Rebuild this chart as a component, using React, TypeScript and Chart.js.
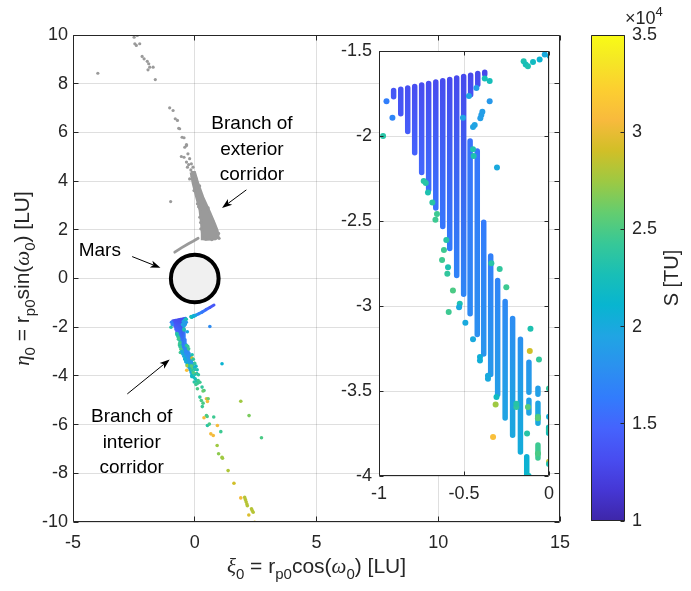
import React, { useEffect, useRef } from "react";
import { Chart, registerables } from "chart.js";

Chart.register(...registerables);

const W = 691;
const H = 591;

const FONT = '"Liberation Sans", Arial, Helvetica, sans-serif';
const GREEK = '"Liberation Serif", "DejaVu Serif", serif';
const AXIS_COLOR = "#262626";
const GRID_COLOR = "rgba(38,38,38,0.15)";
const GREY = "#9a9a9a";

// ---- axes ----
const mainXTicks = [-5, 0, 5, 10, 15];
const mainYTicks = [-10, -8, -6, -4, -2, 0, 2, 4, 6, 8, 10];
const insetXTicks = [-1, -0.5, 0];
const insetYTicks = [-4, -3.5, -3, -2.5, -2, -1.5];
const colorTicks = [10000, 15000, 20000, 25000, 30000, 35000];
const S_MIN = 10000;
const S_MAX = 35000;

// Parula colour map: [row of 64, r, g, b]
const parulaRows: [number, number, number, number][] = [
  [1, 0.2422, 0.1504, 0.6603],
  [5, 0.2706, 0.2147, 0.8364],
  [9, 0.2813, 0.3006, 0.9414],
  [13, 0.2699, 0.3892, 0.9906],
  [17, 0.1963, 0.4847, 0.9892],
  [21, 0.1687, 0.5703, 0.9359],
  [25, 0.1248, 0.6459, 0.8883],
  [29, 0.0297, 0.7082, 0.8163],
  [33, 0.0964, 0.75, 0.712],
  [37, 0.2161, 0.7843, 0.5923],
  [41, 0.3909, 0.8029, 0.4354],
  [45, 0.6174, 0.7876, 0.2612],
  [49, 0.8203, 0.7498, 0.1535],
  [53, 0.9728, 0.7298, 0.2394],
  [57, 0.9892, 0.8136, 0.1885],
  [61, 0.9597, 0.9135, 0.1423],
  [64, 0.9769, 0.9839, 0.0805],
];

// ---- Mars ----
const MARS_CENTER: [number, number] = [0, 0];
const MARS_RADIUS = 0.98;

// ---- exterior corridor branch (grey) ----
const exteriorPoints: [number, number][] = [
  [-3.98, 8.43], [-2.49, 9.91], [-2.36, 9.98], [-2.46, 9.64], [-2.4, 9.57], [-2.26, 9.64],
  [-2.16, 9.12], [-2.08, 9.02], [-1.95, 8.92], [-1.89, 8.82], [-1.85, 8.68], [-1.92, 8.57],
  [-1.71, 8.68], [-1.62, 8.17], [-1.03, 7.01], [-0.89, 6.9], [-0.8, 6.56], [-0.71, 6.49],
  [-0.66, 6.17], [-0.62, 6.15], [-0.52, 5.8], [-0.44, 5.78], [-0.34, 5.46], [-0.41, 5.39],
  [-0.34, 5.5], [-0.55, 5.01], [-0.44, 4.98], [-0.28, 5.12], [-0.21, 4.92], [-0.34, 4.78],
  [-0.25, 4.68], [-0.14, 4.71], [-0.16, 4.46], [-0.07, 4.57], [-0.3, 4.57], [-0.99, 3.16],
  [-0.21, 4.09], [-0.03, 3.61], [0.11, 3.07], [0.21, 2.52], [0.25, 2.04], [-0.1, 4.2],
  [0.05, 4.1], [0.2, 3.8], [0.4, 3.1], [0.55, 2.9], [0.75, 2.35], [0.98, 1.85], [1.0, 1.65],
  [0.7, 1.6], [0.45, 1.62], [0.24, 2.3], [0.16, 2.95],
];
const exteriorCore: [number, number][] = [
  [-0.16, 4.36], [0.0, 4.36], [0.14, 3.89], [0.34, 3.34], [0.62, 2.72], [0.82, 2.25],
  [0.93, 1.97], [0.97, 1.7], [0.85, 1.62], [0.5, 1.6], [0.32, 1.62], [0.3, 1.84],
  [0.27, 2.25], [0.21, 2.79], [0.07, 3.34], [-0.07, 3.89],
];
const exteriorArc: [number, number][] = [
  [-0.82, 1.08], [-0.55, 1.26], [-0.28, 1.42], [-0.07, 1.53], [0.14, 1.65],
];

// ---- interior corridor branch (coloured by S) ----
// stripes: xi, eta at top, eta at bottom, S at top, S at bottom
const stripeXi = [
  -0.914, -0.872, -0.831, -0.79, -0.749, -0.708, -0.666, -0.625, -0.584, -0.543, -0.502,
  -0.461, -0.419, -0.378, -0.464, -0.422, -0.384, -0.343, -0.302, -0.258, -0.214, -0.168,
  -0.118, -0.118, -0.131, -0.065, -0.065, -0.065, -0.002,
];
const stripeTop = [
  -1.733, -1.725, -1.717, -1.709, -1.7, -1.691, -1.683, -1.675, -1.667, -1.659, -1.65,
  -1.642, -1.633, -1.625, -2.029, -2.088, -2.508, -2.706, -2.85, -2.974, -3.073, -3.196,
  -3.331, -3.554, -3.887, -3.484, -3.572, -3.818, -3.713,
];
const stripeBottom = [
  -1.769, -1.869, -1.974, -2.098, -2.215, -2.318, -2.423, -2.533, -2.662, -2.821, -2.931,
  -1.758, -1.697, -1.637, -3.046, -3.168, -3.283, -3.403, -3.52, -3.659, -3.761, -3.859,
  -3.507, -3.63, -4.05, -3.519, -3.689, -3.894, -3.748,
];
const stripeSTop = [
  13800, 13600, 13400, 13300, 13200, 13200, 13100, 13100, 13000, 13000, 13000,
  12900, 12900, 12800, 15800, 16000, 16300, 16700, 17000, 17300, 17600, 17900,
  18300, 19200, 20700, 19000, 19500, 24500, 22500,
];
const stripeSBottom = [
  14000, 13900, 14300, 14700, 15000, 15400, 15700, 16000, 16300, 16800, 17100,
  13500, 13200, 12900, 17400, 17800, 18200, 18500, 19000, 19500, 19900, 20300,
  18900, 19500, 21500, 19100, 20000, 24500, 22500,
];

// scattered solutions near the dense part: xi, eta, S
const interiorCore: [number, number, number][] = [
  [-0.956, -1.795, 16500], [-0.921, -1.893, 17000], [-0.976, -2.0, 23500],
  [-0.471, -1.765, 19500], [-0.506, -1.893, 19500], [-0.447, -1.947, 19500],
  [-0.437, -1.935, 19500], [-0.392, -1.857, 19000], [-0.398, -1.876, 19000],
  [-0.404, -1.896, 19000], [-0.427, -1.717, 19000], [-0.378, -1.662, 22500],
  [-0.349, -1.677, 22500], [-0.349, -1.795, 18500], [-0.306, -2.186, 20000],
  [-0.447, -2.078, 23000], [-0.443, -2.117, 23000], [-0.737, -2.264, 23500],
  [-0.725, -2.277, 23500], [-0.712, -2.332, 23000], [-0.686, -2.391, 23500],
  [-0.659, -2.459, 24500], [-0.668, -2.493, 24500], [-0.604, -2.612, 23500],
  [-0.618, -2.67, 24500], [-0.629, -2.729, 24500], [-0.594, -2.772, 23000],
  [-0.339, -2.749, 23500], [-0.29, -2.782, 24000], [-0.598, -2.811, 24000],
  [-0.565, -2.909, 25000], [-0.525, -2.987, 23000], [-0.59, -3.036, 24500],
  [-0.529, -3.007, 20000], [-0.492, -3.099, 20000], [-0.447, -3.195, 20000],
  [-0.406, -3.3, 20500], [-0.406, -3.32, 20500], [-0.359, -3.41, 20000],
  [-0.359, -3.428, 20000], [-0.251, -2.89, 24500], [-0.309, -3.535, 22000],
  [-0.314, -3.58, 27500], [-0.329, -3.77, 31000], [-0.192, -3.594, 24000],
  [-0.192, -3.575, 23500], [-0.109, -3.134, 23000], [-0.113, -3.265, 29000],
  [-0.059, -3.314, 24000], [-0.124, -3.594, 25500], [-0.129, -3.75, 23500],
  [-0.065, -3.652, 25000], [-0.065, -3.66, 25500], [0.0, -3.486, 24000],
  [0.0, -3.652, 20500], [0.0, -3.73, 23500], [0.0, -3.916, 28500], [0.0, -3.93, 23000],
  [-0.065, -3.867, 25000], [-0.149, -1.56, 23000], [-0.137, -1.58, 22500],
  [-0.124, -1.589, 23000], [-0.094, -1.564, 22000], [-0.055, -1.55, 21000],
  [-0.025, -1.521, 20000], [0.004, -1.531, 20500],
];

// sparse solutions further down the branch: xi, eta, S
const interiorTrail: [number, number, number][] = [
  [0.62, -1.97, 17500], [1.12, -3.5, 21000], [0.05, -3.6, 22000], [0.1, -3.75, 23000],
  [0.08, -3.9, 22500], [0.15, -3.95, 24000], [-0.05, -4.05, 22000], [0.02, -4.12, 22500],
  [-0.12, -4.0, 22000], [0.08, -4.2, 23000], [0.12, -4.3, 24000], [-0.02, -4.25, 23500],
  [0.05, -4.35, 24500], [0.14, -4.19, 24500], [0.21, -4.26, 24500], [0.3, -4.46, 24000],
  [0.11, -4.53, 25000], [0.38, -4.6, 25000], [0.34, -4.62, 26000], [0.21, -4.87, 24000],
  [0.48, -4.94, 30000], [0.55, -4.94, 26000], [0.27, -5.01, 25000], [0.52, -5.05, 30500],
  [0.34, -5.12, 25000], [0.31, -5.26, 24500], [0.48, -5.63, 25000], [0.51, -5.67, 25000],
  [0.38, -5.72, 30500], [0.78, -5.69, 24500], [0.52, -6.04, 23500], [0.6, -5.98, 25000],
  [0.93, -6.04, 30500], [1.07, -6.29, 24500], [0.66, -6.38, 30500], [0.76, -6.45, 30500],
  [0.92, -6.86, 27500], [0.98, -7.2, 27000], [1.12, -7.34, 27500], [1.14, -7.38, 27500],
  [1.37, -7.89, 28000], [1.61, -8.41, 29000], [1.89, -9.01, 30500], [2.05, -8.99, 28200],
  [2.08, -9.08, 28200], [2.11, -9.17, 28200], [2.14, -9.26, 28200], [2.16, -9.33, 28200],
  [2.33, -9.46, 28200], [2.36, -9.53, 28200], [2.4, -9.6, 28200], [2.22, -9.71, 29500],
  [2.46, -10.01, 29500], [1.89, -5.04, 27500], [2.23, -5.63, 26500], [2.74, -6.54, 25000],
];

// thin arc of solutions next to Mars: xi, eta, S
const interiorArc: [number, number, number][] = [
  [-0.15, -1.57, 20500], [-0.05, -1.54, 19500], [0.05, -1.5, 18500], [0.16, -1.45, 17500],
  [0.3, -1.38, 16500], [0.46, -1.28, 15500], [0.62, -1.19, 14500], [0.79, -1.09, 13500],
];

// ---- annotations (anchors in data units) ----
const labelLines = [["Mars"], ["Branch of", "exterior", "corridor"], ["Branch of", "interior", "corridor"]];
const labelAnchors: [number, number][] = [[-3.9, 1.12], [2.35, 6.34], [-2.59, -5.68]];
const arrowTails: [number, number][] = [[-2.57, 0.9], [2.12, 3.64], [-2.77, -4.74]];
const arrowHeads: [number, number][] = [[-1.41, 0.44], [1.12, 2.9], [-1.03, -3.33]];

type Run = { t: string; greek?: boolean; sub?: boolean; sup?: boolean };
const xTitle: Run[] = [
  { t: "ξ", greek: true }, { t: "0", sub: true }, { t: " = r" }, { t: "p0", sub: true },
  { t: "cos(" }, { t: "ω", greek: true }, { t: "0", sub: true }, { t: ") [LU]" },
];
const yTitle: Run[] = [
  { t: "η", greek: true }, { t: "0", sub: true }, { t: " = r" }, { t: "p0", sub: true },
  { t: "sin(" }, { t: "ω", greek: true }, { t: "0", sub: true }, { t: ") [LU]" },
];
const scaleFactorLabel: Run[] = [{ t: "×10" }, { t: "4", sup: true }];

function parula(s: number): string {
  const t = Math.min(1, Math.max(0, (s - S_MIN) / (S_MAX - S_MIN)));
  const f = t * 63 + 1;
  let i = 0;
  while (i < parulaRows.length - 2 && parulaRows[i + 1][0] < f) i++;
  const a = parulaRows[i];
  const b = parulaRows[i + 1];
  const u = Math.min(1, Math.max(0, (f - a[0]) / (b[0] - a[0])));
  const c = (k: number) => Math.round(255 * (a[k] + (b[k] - a[k]) * u));
  return `rgb(${c(1)},${c(2)},${c(3)})`;
}

const fmt = (v: number) => String(Math.round(v * 100) / 100);
const tickFont = { family: FONT, size: 18 };

function runFont(r: Run, size: number) {
  const s = r.sub || r.sup ? Math.round(size * 0.7) : size;
  return r.greek ? `italic ${s}px ${GREEK}` : `${s}px ${FONT}`;
}

function drawRich(ctx: CanvasRenderingContext2D, runs: Run[], x: number, y: number, size: number, align: "center" | "left") {
  ctx.textAlign = "left";
  ctx.textBaseline = "alphabetic";
  const widths = runs.map((r) => {
    ctx.font = runFont(r, size);
    return ctx.measureText(r.t).width;
  });
  const total = widths.reduce((a, b) => a + b, 0);
  let cx = align === "center" ? x - total / 2 : x;
  runs.forEach((r, i) => {
    ctx.font = runFont(r, size);
    const dy = r.sub ? size * 0.3 : r.sup ? -size * 0.45 : 0;
    ctx.fillText(r.t, cx, y + dy);
    cx += widths[i];
  });
}

const align = (p: number) => Math.round(p - 0.5) + 0.5;

function drawFrame(chart: any, tickLen: number, leftTicks: boolean, xTicks: boolean) {
  const { ctx, chartArea: a } = chart;
  const sx = chart.scales.x;
  const sy = chart.scales.y;
  const L = align(a.left);
  const R = align(a.right - 1);
  const T = align(a.top);
  const B = align(a.bottom - 1);
  ctx.save();
  ctx.strokeStyle = AXIS_COLOR;
  ctx.lineWidth = 1;
  ctx.beginPath();
  ctx.rect(L, T, R - L, B - T);
  if (xTicks) {
    sx.ticks.forEach((t: any) => {
      const p = align(sx.getPixelForValue(t.value));
      ctx.moveTo(p, B);
      ctx.lineTo(p, B - tickLen);
      ctx.moveTo(p, T);
      ctx.lineTo(p, T + tickLen);
    });
  }
  sy.ticks.forEach((t: any) => {
    const p = align(sy.getPixelForValue(t.value));
    if (leftTicks) {
      ctx.moveTo(L, p);
      ctx.lineTo(L + tickLen, p);
    }
    ctx.moveTo(R, p);
    ctx.lineTo(R - tickLen, p);
  });
  ctx.stroke();
  ctx.restore();
}

function drawArrow(ctx: CanvasRenderingContext2D, x0: number, y0: number, x1: number, y1: number) {
  const ang = Math.atan2(y1 - y0, x1 - x0);
  const c = Math.cos(ang);
  const s = Math.sin(ang);
  const len = 10;
  const half = 3.6;
  const back = 2.5;
  ctx.beginPath();
  ctx.moveTo(x0, y0);
  ctx.lineTo(x1 - c * (len - back), y1 - s * (len - back));
  ctx.stroke();
  ctx.beginPath();
  ctx.moveTo(x1, y1);
  ctx.lineTo(x1 - len * c + half * s, y1 - len * s - half * c);
  ctx.lineTo(x1 - (len - back) * c, y1 - (len - back) * s);
  ctx.lineTo(x1 - len * c - half * s, y1 - len * s + half * c);
  ctx.closePath();
  ctx.fill();
}

function stripeDatasets(width: number, clip?: number) {
  return stripeXi.map((xi, i) => ({
    type: "line" as const,
    data: [
      { x: xi, y: stripeTop[i] },
      { x: xi, y: stripeBottom[i] },
    ],
    borderWidth: width,
    borderCapStyle: "round" as const,
    pointRadius: 0,
    fill: false,
    clip,
    borderColor: (c: any) => {
      const chart = c.chart;
      const ys = chart.scales && chart.scales.y;
      if (!chart.chartArea || !ys) return parula(stripeSTop[i]);
      const g = chart.ctx.createLinearGradient(0, ys.getPixelForValue(stripeTop[i]), 0, ys.getPixelForValue(stripeBottom[i]));
      g.addColorStop(0, parula(stripeSTop[i]));
      g.addColorStop(1, parula(stripeSBottom[i]));
      return g;
    },
  }));
}

function pointDataset(pts: [number, number, number][], radius: number) {
  return {
    type: "scatter" as const,
    data: pts.map(([x, y]) => ({ x, y })),
    pointRadius: radius,
    pointBackgroundColor: pts.map((p) => parula(p[2])),
    pointBorderWidth: 0,
    pointBorderColor: "rgba(0,0,0,0)",
  };
}

function fixedTicks(values: number[]) {
  return (s: any) => {
    s.ticks = values.map((v) => ({ value: v }));
  };
}

const mainDecor = {
  id: "mainDecor",
  afterDraw(chart: any) {
    const { ctx, chartArea: a, scales } = chart;
    drawFrame(chart, 5, true, true);
    const px = (v: number) => scales.x.getPixelForValue(v);
    const py = (v: number) => scales.y.getPixelForValue(v);
    ctx.save();
    ctx.fillStyle = "#000";
    ctx.strokeStyle = "#000";
    ctx.lineWidth = 1;
    ctx.font = `19px ${FONT}`;
    ctx.textAlign = "center";
    ctx.textBaseline = "middle";
    labelLines.forEach((lines, i) => {
      const [ax, ay] = labelAnchors[i];
      lines.forEach((line, k) => ctx.fillText(line, px(ax), py(ay) + k * 25.5));
    });
    arrowTails.forEach((t, i) => {
      const h = arrowHeads[i];
      drawArrow(ctx, px(t[0]), py(t[1]), px(h[0]), py(h[1]));
    });
    ctx.fillStyle = AXIS_COLOR;
    drawRich(ctx, xTitle, (a.left + a.right) / 2, 573, 21, "center");
    ctx.translate(29, (a.top + a.bottom) / 2);
    ctx.rotate(-Math.PI / 2);
    drawRich(ctx, yTitle, 0, 0, 21, "center");
    ctx.restore();
  },
};

const insetDecor = {
  id: "insetDecor",
  beforeDraw(chart: any) {
    const { ctx, chartArea: a } = chart;
    ctx.save();
    ctx.fillStyle = "#ffffff";
    ctx.fillRect(a.left, a.top, a.right - a.left, a.bottom - a.top);
    ctx.restore();
  },
  afterDraw(chart: any) {
    drawFrame(chart, 4, true, true);
  },
};

const colorbarDecor = {
  id: "colorbarDecor",
  beforeDatasetsDraw(chart: any) {
    const { ctx, chartArea: a, scales } = chart;
    const y0 = scales.y.getPixelForValue(S_MIN);
    const y1 = scales.y.getPixelForValue(S_MAX);
    const g = ctx.createLinearGradient(0, y0, 0, y1);
    parulaRows.forEach((r) => g.addColorStop((r[0] - 1) / 63, parula(S_MIN + ((r[0] - 1) / 63) * (S_MAX - S_MIN))));
    ctx.save();
    ctx.fillStyle = g;
    ctx.fillRect(a.left, y1, a.right - a.left, y0 - y1);
    ctx.restore();
  },
  afterDraw(chart: any) {
    const { ctx, chartArea: a } = chart;
    drawFrame(chart, 4, false, false);
    ctx.save();
    ctx.fillStyle = AXIS_COLOR;
    drawRich(ctx, scaleFactorLabel, a.right, 24, 18, "left");
    ctx.translate(678, (a.top + a.bottom) / 2);
    ctx.rotate(-Math.PI / 2);
    drawRich(ctx, [{ t: "S [TU]" }], 0, 0, 20, "center");
    ctx.restore();
  },
};

function mainConfig(): any {
  return {
    type: "scatter",
    data: {
      datasets: [
        {
          type: "scatter",
          data: [{ x: MARS_CENTER[0], y: MARS_CENTER[1] }],
          pointRadius: (c: any) => {
            const s = c.chart.scales && c.chart.scales.x;
            return s ? Math.abs(s.getPixelForValue(MARS_RADIUS) - s.getPixelForValue(0)) : 24;
          },
          pointBorderWidth: 4,
          pointBorderColor: "#000000",
          pointBackgroundColor: "#f0f0f0",
        },
        pointDataset(interiorCore, 1.8),
        pointDataset(interiorTrail, 1.8),
        {
          type: "line",
          data: interiorArc.map(([x, y]) => ({ x, y })),
          borderWidth: 3,
          borderCapStyle: "round",
          pointRadius: 0,
          fill: false,
          borderColor: parula(interiorArc[0][2]),
          segment: {
            borderColor: (c: any) => parula((interiorArc[c.p0DataIndex][2] + interiorArc[c.p1DataIndex][2]) / 2),
          },
        },
        ...stripeDatasets(2.5),
        {
          type: "scatter",
          data: exteriorPoints.map(([x, y]) => ({ x, y })),
          pointRadius: 1.6,
          pointBackgroundColor: GREY,
          pointBorderWidth: 0,
        },
        {
          type: "line",
          data: [...exteriorCore, exteriorCore[0]].map(([x, y]) => ({ x, y })),
          fill: "shape",
          backgroundColor: GREY,
          borderColor: GREY,
          borderWidth: 2.5,
          pointRadius: 0,
        },
        {
          type: "line",
          data: exteriorArc.map(([x, y]) => ({ x, y })),
          borderColor: GREY,
          borderWidth: 2.8,
          borderCapStyle: "round",
          pointRadius: 0,
          fill: false,
        },
      ],
    },
    options: {
      animation: false,
      responsive: false,
      events: [],
      layout: { padding: { left: 0, top: 35, right: 131, bottom: 0 } },
      plugins: { legend: { display: false }, tooltip: { enabled: false } },
      scales: {
        x: {
          type: "linear",
          min: mainXTicks[0],
          max: mainXTicks[mainXTicks.length - 1],
          afterBuildTicks: fixedTicks(mainXTicks),
          ticks: { font: tickFont, color: AXIS_COLOR, padding: 10, maxRotation: 0, callback: (v: number) => fmt(v) },
          grid: { color: GRID_COLOR, drawTicks: false },
          border: { display: false },
          afterFit: (s: any) => {
            s.height = 69;
          },
        },
        y: {
          type: "linear",
          min: mainYTicks[0],
          max: mainYTicks[mainYTicks.length - 1],
          afterBuildTicks: fixedTicks(mainYTicks),
          ticks: { font: tickFont, color: AXIS_COLOR, padding: 5, callback: (v: number) => fmt(v) },
          grid: { color: GRID_COLOR, drawTicks: false },
          border: { display: false },
          afterFit: (s: any) => {
            s.width = 73;
          },
        },
      },
    },
    plugins: [mainDecor],
  };
}

function insetConfig(): any {
  return {
    type: "scatter",
    data: {
      datasets: [pointDataset(interiorCore, 3), pointDataset(interiorTrail, 3), ...stripeDatasets(5.5, 0)],
    },
    options: {
      animation: false,
      responsive: false,
      events: [],
      layout: { padding: { left: 319, top: 51, right: 142, bottom: 65 } },
      plugins: { legend: { display: false }, tooltip: { enabled: false } },
      scales: {
        x: {
          type: "linear",
          min: insetXTicks[0],
          max: insetXTicks[insetXTicks.length - 1],
          afterBuildTicks: fixedTicks(insetXTicks),
          ticks: { font: tickFont, color: AXIS_COLOR, padding: 7, maxRotation: 0, callback: (v: number) => fmt(v) },
          grid: { color: GRID_COLOR, drawTicks: false },
          border: { display: false },
          afterFit: (s: any) => {
            s.height = 50;
          },
        },
        y: {
          type: "linear",
          min: insetYTicks[0],
          max: insetYTicks[insetYTicks.length - 1],
          afterBuildTicks: fixedTicks(insetYTicks),
          ticks: { font: tickFont, color: AXIS_COLOR, padding: 7, callback: (v: number) => fmt(v) },
          grid: { color: GRID_COLOR, drawTicks: false },
          border: { display: false },
          afterFit: (s: any) => {
            s.width = 60;
          },
        },
      },
    },
    plugins: [insetDecor],
  };
}

function colorbarConfig(): any {
  return {
    type: "scatter",
    data: { datasets: [] },
    options: {
      animation: false,
      responsive: false,
      events: [],
      layout: { padding: { left: 591, top: 35, right: 26, bottom: 70 } },
      plugins: { legend: { display: false }, tooltip: { enabled: false } },
      scales: {
        x: { type: "linear", display: false, min: 0, max: 1 },
        y: {
          type: "linear",
          position: "right",
          min: S_MIN,
          max: S_MAX,
          afterBuildTicks: fixedTicks(colorTicks),
          ticks: { font: tickFont, color: AXIS_COLOR, padding: 7, callback: (v: number) => fmt(v / 10000) },
          grid: { display: false, drawTicks: false },
          border: { display: false },
          afterFit: (s: any) => {
            s.width = 40;
          },
        },
      },
    },
    plugins: [colorbarDecor],
  };
}

export default function App() {
  const mainRef = useRef<HTMLCanvasElement>(null);
  const insetRef = useRef<HTMLCanvasElement>(null);
  const barRef = useRef<HTMLCanvasElement>(null);

  useEffect(() => {
    const charts = [
      new Chart(mainRef.current as HTMLCanvasElement, mainConfig()),
      new Chart(insetRef.current as HTMLCanvasElement, insetConfig()),
      new Chart(barRef.current as HTMLCanvasElement, colorbarConfig()),
    ];
    return () => charts.forEach((c) => c.destroy());
  }, []);

  const layer: React.CSSProperties = { position: "absolute", left: 0, top: 0, width: W, height: H };
  return (
    <div style={{ position: "absolute", left: 0, top: 0, width: W, height: H, background: "#ffffff" }}>
      <canvas ref={mainRef} width={W} height={H} style={layer} />
      <canvas ref={insetRef} width={W} height={H} style={layer} />
      <canvas ref={barRef} width={W} height={H} style={layer} />
    </div>
  );
}
